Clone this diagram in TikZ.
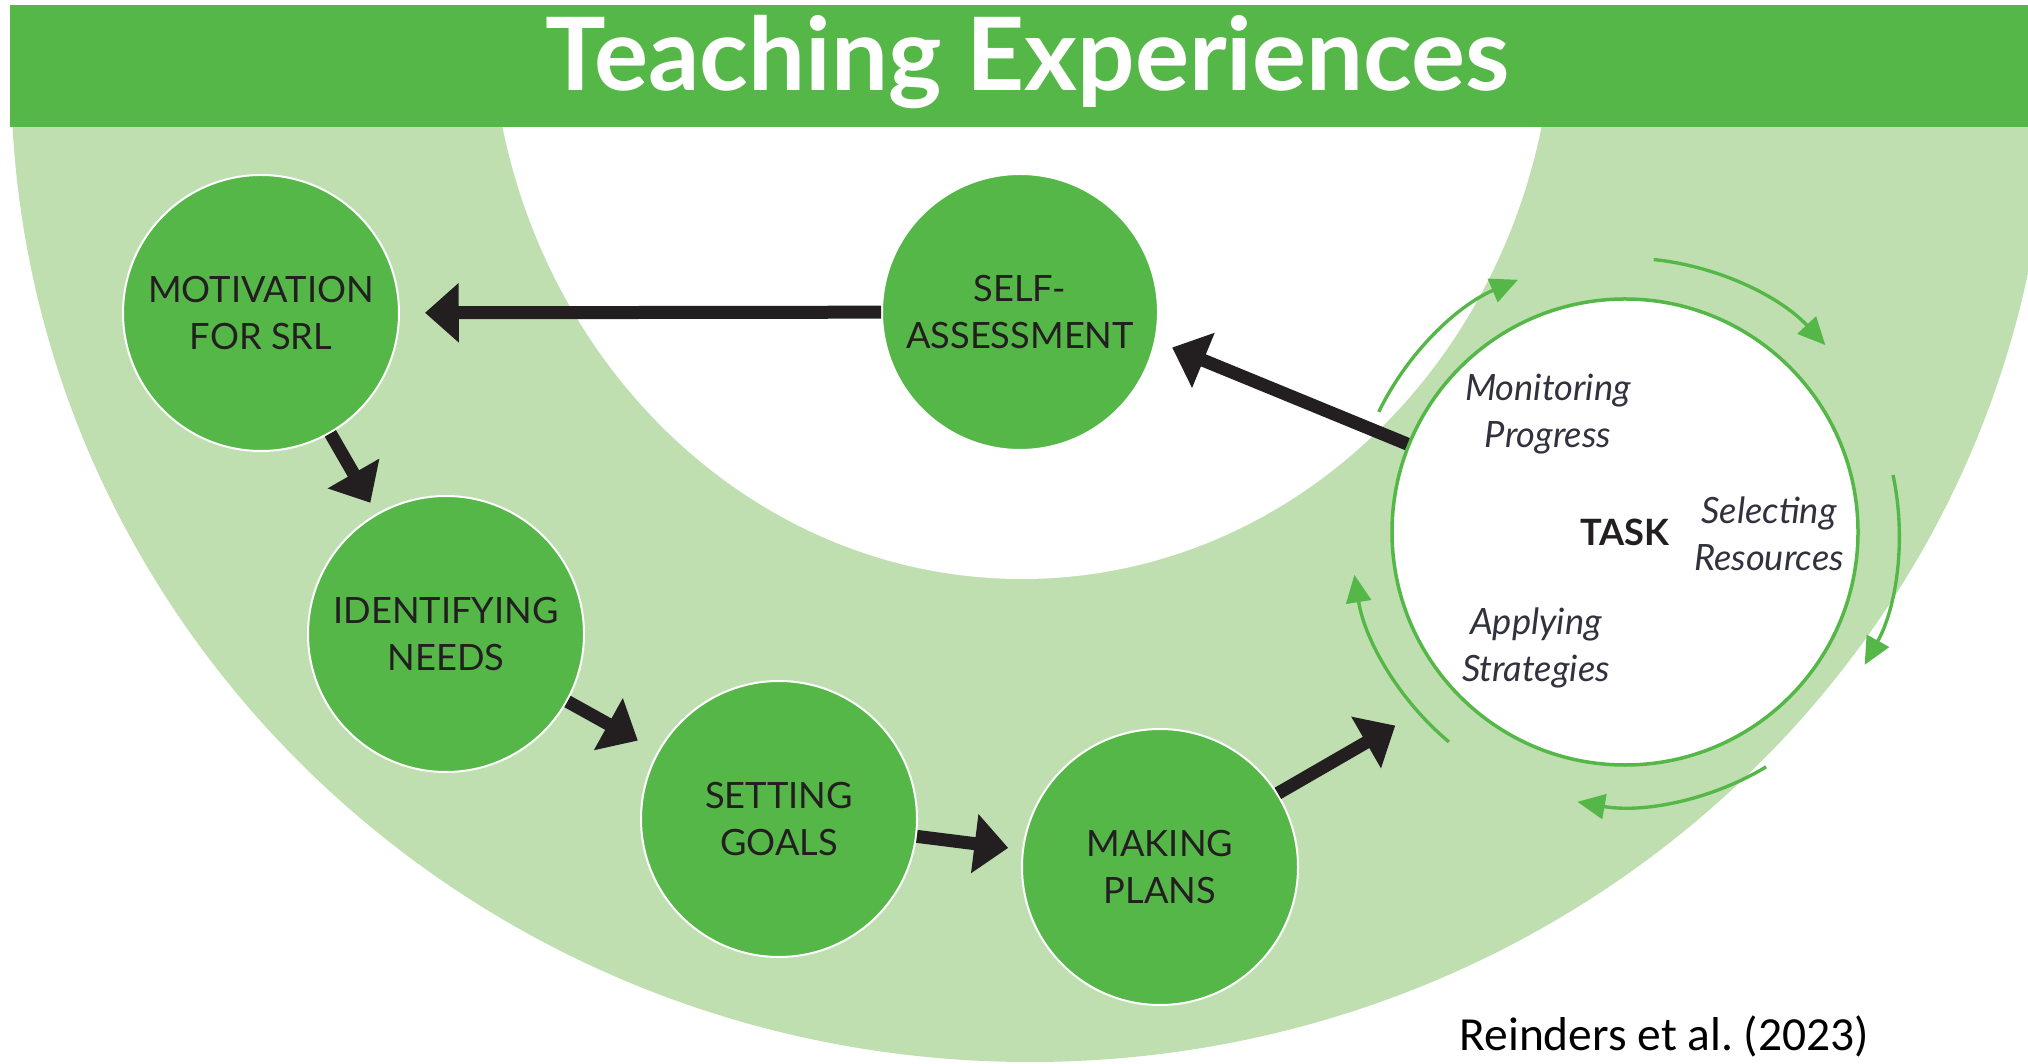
\documentclass[tikz,border=0pt]{standalone}
\usepackage{fontspec}
\setmainfont{Lato}
\newfontfamily\citefont{Carlito}
\usetikzlibrary{arrows.meta, positioning}
\definecolor{bargreen}{RGB}{85,183,72}
\definecolor{bandgreen}{RGB}{191,223,177}
\definecolor{inkgray}{RGB}{35,31,32}
\definecolor{slategray}{RGB}{50,50,62}
\frenchspacing
\tikzset{
  stage/.style={circle, fill=bargreen, draw=white, line width=0.8pt, minimum size=110.4pt, inner sep=0pt,
    align=center, text=inkgray, font=\fontsize{14.5}{19}\selectfont},
  taskring/.style={circle, fill=white, draw=bargreen, line width=1.4pt, minimum size=186.4pt, inner sep=0pt,
    text=inkgray, font=\fontsize{14.5}{19}\selectfont\bfseries},
  tasklbl/.style={align=center, inner sep=0pt, text=slategray, font=\fontsize{14.5}{19}\selectfont\itshape},
  flow/.style={draw=inkgray, line width=5.2pt, -{Triangle[length=13.5pt,width=23pt]}},
  cyclearrow/.style={draw=bargreen, line width=1.35pt, -{Triangle[length=11pt,width=10pt]}},
}
\begin{document}
\begin{tikzpicture}[x=0.4pt,y=0.4pt,yscale=-1]
\useasboundingbox (0,0) rectangle (2028,1064);
\fill[white] (0,0) rectangle (2028,1064);

% light green band
\begin{scope}
\clip (0,100) rectangle (2028,1064);
\fill[bandgreen] (1030,72) ellipse [x radius=1019, y radius=990];
\fill[white] (1022,2) ellipse [x radius=532, y radius=577];
\end{scope}

% title bar
\fill[bargreen] (10,5) rectangle (2028,127);
\node[anchor=base, inner sep=0pt, text=white, font=\fontsize{40.5}{42}\selectfont\bfseries] (heading) at (1028,91) {Teaching Experiences};

% stages
\node[stage] (motivation) at (261,313) {MOTIVATION\\FOR SRL};
\node[stage] (needs) at (446,634) {IDENTIFYING\\NEEDS};
\node[stage] (goals) at (779,819) {SETTING\\GOALS};
\node[stage] (plans) at (1160,867) {MAKING\\PLANS};
\node[stage] (selfassess) at (1020,312) {SELF-\\ASSESSMENT};
\node[taskring] (task) at (1625,532) {TASK};

% task labels
\node[tasklbl] (monitoring) at (1548,414) {Monitoring\\Progress};
\node[tasklbl] (selecting) at (1769,534) {Selecting\\Resources};
\node[tasklbl] (applying) at (1536,648) {Applying\\Strategies};

% black connectors
\draw[flow, shorten >=10pt] (selfassess) -- (motivation);
\draw[flow, shorten >=7pt] (task.158) -- (selfassess.-12);
\draw[flow, shorten >=5pt] (motivation) -- (needs);
\draw[flow, shorten >=9pt] (needs) -- (goals);
\draw[flow, shorten >=5.6pt] (goals) -- (plans);
\draw[flow, shorten >=26.8pt] (plans.32) -- (task.223);

% cycle round the task
\foreach \a in {-154,-84,-12,59,130}
  \draw[cyclearrow] (task.center) ++(\a:274) arc[start angle=\a, end angle=\a+41, radius=274];

% source
\node[anchor=base west, inner sep=0pt, font=\citefont\fontsize{19}{21}\selectfont] (source) at (1459,1050) {Reinders et al. (2023)};
\end{tikzpicture}
\end{document}
